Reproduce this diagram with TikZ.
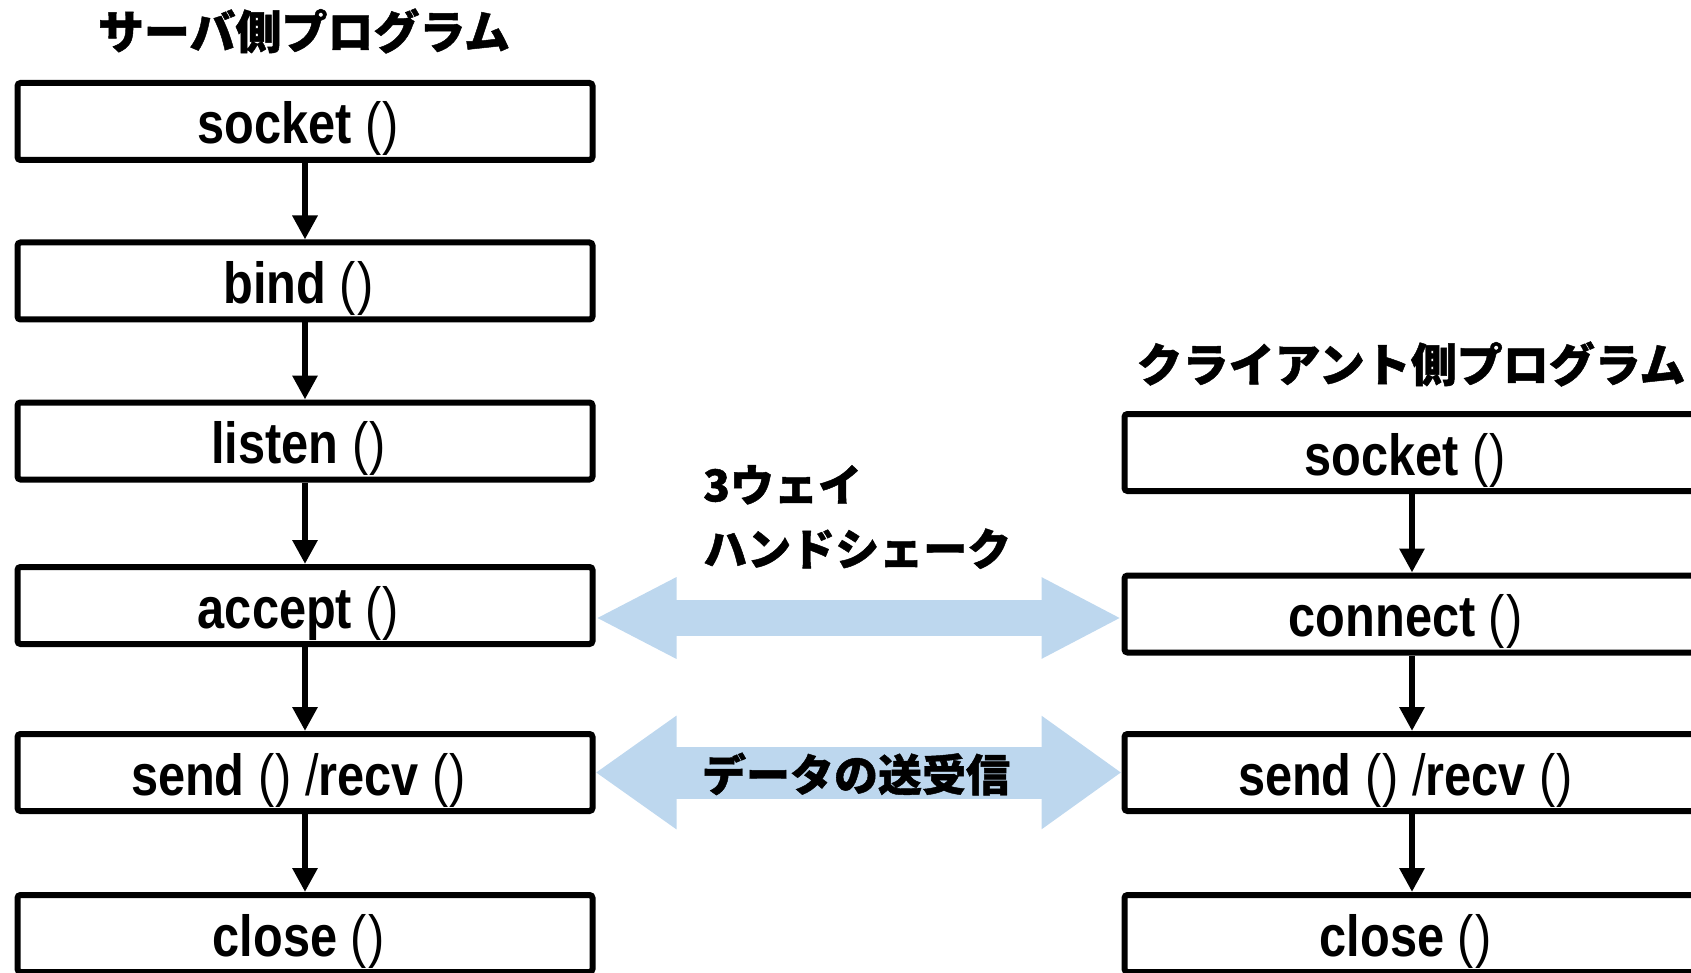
\documentclass[tikz,border=0pt]{standalone}
\usepackage{fontspec}
\setmainfont{Liberation Sans}
\newfontfamily\boxfont{Liberation Sans}[FakeStretch=0.84]
\newfontfamily\jp{Noto Sans CJK JP}
\usetikzlibrary{arrows.meta}
\definecolor{lblue}{HTML}{BDD7EE}
\newcommand\fnpar{{\mdseries(\kern1pt)}}
\newcommand\fnsl{{\mdseries/}}
\begin{document}
\begin{tikzpicture}[x=1pt,y=-1pt,
  func/.style={draw, line width=6pt, rounded corners=3pt, minimum width=575pt, minimum height=77pt, inner sep=0pt,
    text height=57pt, text depth=12pt,
    execute at end node={\hspace*{13pt}},
    font=\boxfont\bfseries\fontsize{58}{60}\selectfont},
  flow/.style={line width=6pt, -{Triangle[length=24pt,width=24pt]}},
  title/.style={font=\jp\bfseries\addfontfeatures{FakeBold=1}\fontsize{46}{50}\selectfont, inner sep=0pt},
  lbl/.style={font=\jp\bfseries\addfontfeatures{FakeBold=1}\fontsize{44}{64}\selectfont, inner sep=0pt},
]
\useasboundingbox (0,0) rectangle (1691,973);
\clip (0,0) rectangle (1691,973);

\node[title] (t1) at (304,31) {サーバ側プログラム};
\node[title] (t2) at (1411,364) {クライアント側プログラム};

\node[func] (s1) at (305,121.5) {socket \fnpar};
\node[func] (s2) at (305,281) {bind \fnpar};
\node[func] (s3) at (305,441) {listen \fnpar};
\node[func] (s4) at (305,605.5) {accept \fnpar};
\node[func] (s5) at (305,772.5) {send \fnpar\ \fnsl recv \fnpar};
\node[func] (s6) at (305,933.5) {close \fnpar};

\node[func] (c1) at (1412,452.5) {socket \fnpar};
\node[func] (c2) at (1412,614) {connect \fnpar};
\node[func] (c3) at (1412,772.5) {send \fnpar\ \fnsl recv \fnpar};
\node[func] (c4) at (1412,933.5) {close \fnpar};

\draw[flow] (s1) -- (s2);
\draw[flow] (s2) -- (s3);
\draw[flow] (s3) -- (s4);
\draw[flow] (s4) -- (s5);
\draw[flow] (s5) -- (s6);
\draw[flow] (c1) -- (c2);
\draw[flow] (c2) -- (c3);
\draw[flow] (c3) -- (c4);

\draw[lblue, line width=36.6pt, {Triangle[length=81pt,width=75.4pt]}-{Triangle[length=80pt,width=75.4pt]}]
  (s4.east |- 0,618) -- (c2.west |- 0,618);
\draw[lblue, line width=52pt, {Triangle[length=81pt,width=108pt]}-{Triangle[length=80pt,width=108pt]}]
  (s5.east) -- (c3.west);

\node[lbl, align=left, anchor=west] (hs) at (703,517) {3ウェイ\\ハンドシェーク};
\node[lbl] (dl) at (856,774) {データの送受信};
\end{tikzpicture}
\end{document}
